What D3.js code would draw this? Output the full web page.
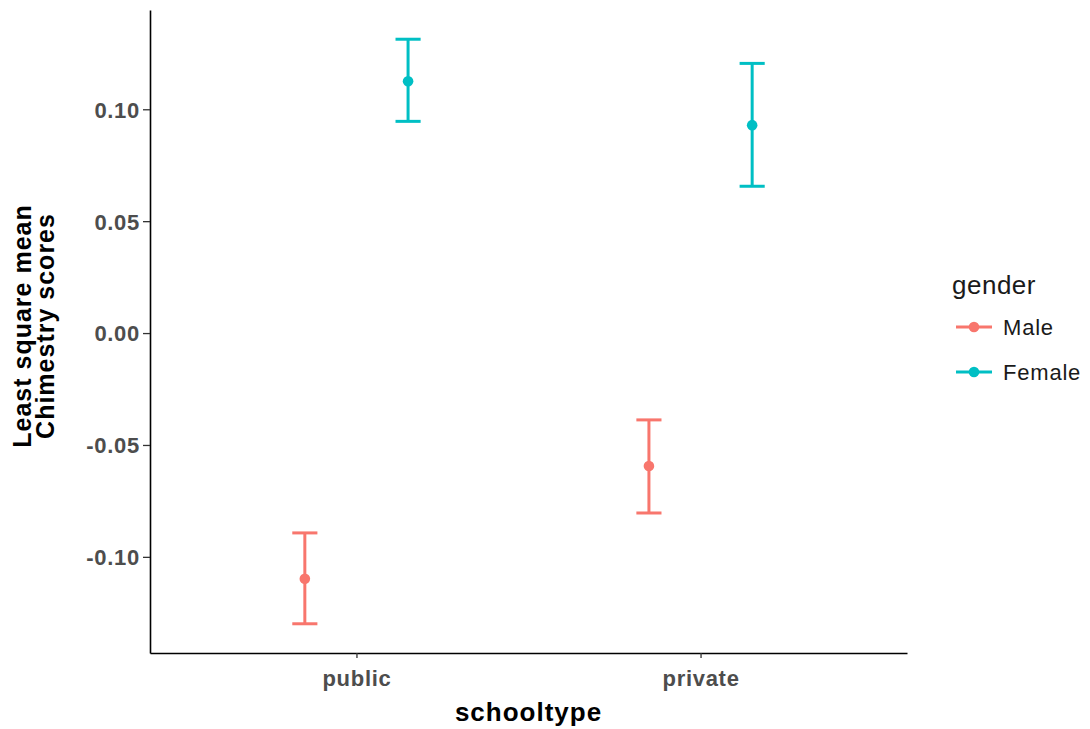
<!DOCTYPE html>
<html>
<head>
<meta charset="utf-8">
<script src="https://cdn.jsdelivr.net/npm/d3@7"></script>
<style>
  body { margin: 0; background: #fff; }
  text { font-family: "Liberation Sans", Arial, sans-serif; }
</style>
</head>
<body>
<div id="vis"></div>
<script>
const schoolTypes = ["public", "private"];
const genders = ["Male", "Female"];
const genderColors = ["#F8766D", "#00BFC4"];
// least square means and their error bar limits, by school type then gender
const meanValues = [[-0.1098, 0.1125], [-0.0594, 0.0929]];
const lowerValues = [[-0.1299, 0.0946], [-0.0804, 0.0656]];
const upperValues = [[-0.0893, 0.1313], [-0.0388, 0.1205]];
const yTicks = [-0.10, -0.05, 0.00, 0.05, 0.10];

const W = 1090, H = 729;
const margin = {top: 10, right: 183, bottom: 76, left: 150};
const width = W - margin.left - margin.right;
const height = H - margin.top - margin.bottom;

const rows = [];
schoolTypes.forEach((s, i) => {
    genders.forEach((g, j) => {
        rows.push({school: s, gender: g, gi: j,
            mean: meanValues[i][j], lo: lowerValues[i][j], hi: upperValues[i][j]});
    });
});

const svg = d3.select("#vis").append("svg")
    .attr("width", W)
    .attr("height", H);

const g = svg.append("g")
    .attr("transform", `translate(${margin.left},${margin.top})`);

// 5% expansion like ggplot
const lo = d3.min(rows, d => d.lo), hi = d3.max(rows, d => d.hi);
const pad = (hi - lo) * 0.05;
const yScale = d3.scaleLinear().domain([lo - pad, hi + pad]).range([height, 0]);

// discrete positions 1..n, 0.6 expansion each side
const xPos = d3.scaleLinear().domain([0.4, schoolTypes.length + 0.6]).range([0, width]);
const unit = xPos(1) - xPos(0);
const dodge = 0.3;
const capW = 0.073;
const xOf = d => xPos(schoolTypes.indexOf(d.school) + 1) + (d.gi - 0.5) * dodge * unit;

// axes
const yAxis = g.append("g")
    .call(d3.axisLeft(yScale).tickValues(yTicks).tickFormat(d => d.toFixed(2))
        .tickSize(7).tickSizeOuter(0).tickPadding(3));
const xAxis = g.append("g")
    .attr("transform", `translate(0,${height})`)
    .call(d3.axisBottom(xPos).tickValues(d3.range(1, schoolTypes.length + 1))
        .tickFormat(i => schoolTypes[i - 1]).tickSize(5).tickSizeOuter(0).tickPadding(12));

[yAxis, xAxis].forEach(a => {
    a.select(".domain").attr("stroke", "#000").attr("stroke-width", 1.6);
    a.selectAll(".tick line").attr("stroke", "#333").attr("stroke-width", 1.3);
    a.selectAll(".tick text")
        .attr("fill", "#4d4d4d")
        .style("font-size", "22px")
        .style("letter-spacing", "0.7px")
        .style("font-weight", "bold");
});
yAxis.selectAll(".tick text").attr("dy", "0.36em");

// error bars
const bars = g.selectAll(".ebar").data(rows).join("g")
    .attr("class", "ebar")
    .attr("stroke", d => genderColors[d.gi])
    .attr("stroke-width", 3)
    .attr("fill", "none");

bars.append("line")
    .attr("x1", xOf).attr("x2", xOf)
    .attr("y1", d => yScale(d.lo)).attr("y2", d => yScale(d.hi));
bars.append("line")
    .attr("x1", d => xOf(d) - capW * unit / 2).attr("x2", d => xOf(d) + capW * unit / 2)
    .attr("y1", d => yScale(d.hi)).attr("y2", d => yScale(d.hi));
bars.append("line")
    .attr("x1", d => xOf(d) - capW * unit / 2).attr("x2", d => xOf(d) + capW * unit / 2)
    .attr("y1", d => yScale(d.lo)).attr("y2", d => yScale(d.lo));

g.selectAll(".pt").data(rows).join("circle")
    .attr("class", "pt")
    .attr("cx", xOf)
    .attr("cy", d => yScale(d.mean))
    .attr("r", 5.3)
    .attr("fill", d => genderColors[d.gi]);

// axis titles
g.append("text")
    .attr("x", width / 2)
    .attr("y", 721 - margin.top)
    .attr("text-anchor", "middle")
    .style("font-size", "26px")
    .style("letter-spacing", "1px")
    .style("font-weight", "bold")
    .text("schooltype");

const yTitle = svg.append("text")
    .attr("transform", "translate(31,326) rotate(-90)")
    .attr("text-anchor", "middle")
    .style("font-size", "25px")
    .style("letter-spacing", "1px")
    .style("font-weight", "bold");
yTitle.append("tspan").attr("x", 0).attr("y", 0).text("Least square mean");
yTitle.append("tspan").attr("x", 0).attr("y", 23).text("Chimestry scores");

// legend
const legend = svg.append("g").attr("transform", "translate(952,0)");
legend.append("text")
    .attr("x", 0).attr("y", 294)
    .style("font-size", "26px")
    .style("letter-spacing", "0.5px")
    .attr("fill", "#1a1a1a")
    .text("gender");
const keys = legend.selectAll(".key").data(genders).join("g")
    .attr("class", "key")
    .attr("transform", (d, i) => `translate(0,${327 + i * 45})`);
keys.append("line")
    .attr("x1", 4).attr("x2", 40)
    .attr("stroke", (d, i) => genderColors[i])
    .attr("stroke-width", 3);
keys.append("circle")
    .attr("cx", 22).attr("r", 5.3)
    .attr("fill", (d, i) => genderColors[i]);
keys.append("text")
    .attr("x", 51).attr("dy", "0.36em")
    .style("font-size", "22px")
    .style("letter-spacing", "0.8px")
    .attr("fill", "#1a1a1a")
    .text(d => d);
</script>
</body>
</html>
